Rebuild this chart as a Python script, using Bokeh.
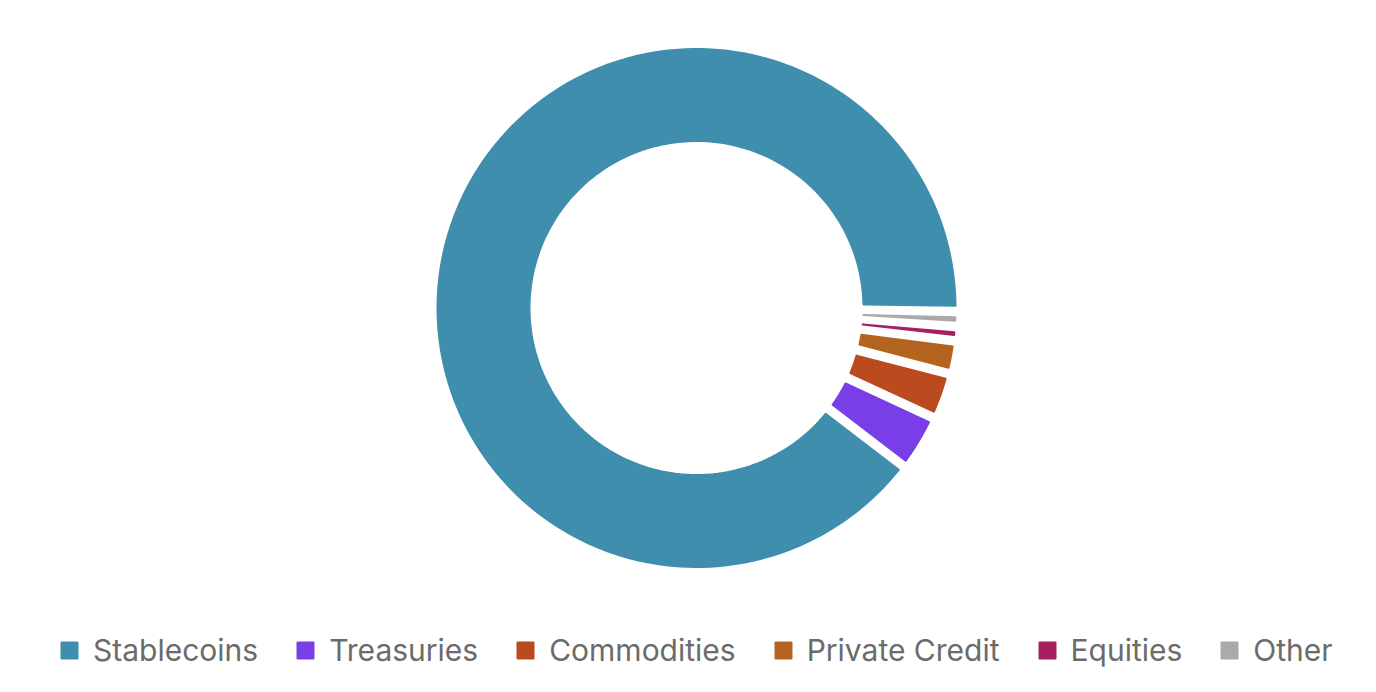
import numpy as np
from bokeh.plotting import figure
from bokeh.models import Range1d, Legend, LegendItem, ColumnDataSource
from bokeh.embed import file_html
from bokeh.resources import INLINE

# ---- data (share of tokenized real-world assets, %) ----
categories = ["Stablecoins", "Treasuries", "Commodities", "Private Credit", "Equities", "Other"]
shares = [93.65, 2.78, 2.13, 1.26, 0.06, 0.08]
colors = ["#3f8eae", "#7a3ee8", "#bb4a1e", "#b3641e", "#a62060", "#aaaaaa"]

# ---- layout / style ----
W, H = 1360, 676
CX, CY = 696.0, 307.5          # donut centre (plot pixels, y down)
R_OUT, R_IN = 259.0, 167.0
PAD_DEG = 3.0                   # angular room reserved per slice
GAP = 11.5                      # constant-width gap between slices (px)
START_DEG = 0.8                 # first slice boundary, clockwise from 3 o'clock

vals = np.array(shares, dtype=float)
n = len(vals)
ang = np.radians(PAD_DEG + vals / vals.sum() * (360.0 - n * PAD_DEG))
cum = np.concatenate([[0.0], np.cumsum(ang)])
start = np.radians(START_DEG)


def trimmed(a, b, r):
    d = np.arcsin((GAP / 2.0) / r)
    a2, b2 = a + d, b - d
    if a2 > b2:
        a2 = b2 = (a + b) / 2.0
    return a2, b2


xs, ys = [], []
for i in range(n):
    # slices run counter-clockwise from the start boundary (y axis points down)
    a, b = start - cum[i + 1], start - cum[i]
    ao, bo = trimmed(a, b, R_OUT)
    ai, bi = trimmed(a, b, R_IN)
    t_out = np.linspace(ao, bo, 200)
    t_in = np.linspace(bi, ai, 200)
    px = np.concatenate([CX + R_OUT * np.cos(t_out), CX + R_IN * np.cos(t_in)])
    py = np.concatenate([CY + R_OUT * np.sin(t_out), CY + R_IN * np.sin(t_in)])
    xs.append(px.tolist())
    ys.append(py.tolist())

src = ColumnDataSource(dict(xs=xs, ys=ys, color=colors, label=categories))

p = figure(width=W, height=H, x_range=Range1d(0, W), y_range=Range1d(H, 0),
           output_backend="svg", toolbar_location=None, min_border=0)
p.axis.visible = False
p.grid.visible = False
p.outline_line_color = None
p.background_fill_color = "white"
p.border_fill_color = "white"

r = p.patches("xs", "ys", source=src, fill_color="color", line_color="color",
              line_width=2, line_join="round")

items = [LegendItem(label=categories[i], renderers=[r], index=i) for i in range(n)]
legend = Legend(items=items, orientation="horizontal", location=(59, 8),
                glyph_width=20, glyph_height=20, label_standoff=14, spacing=37,
                padding=0, margin=0, border_line_alpha=0, background_fill_alpha=0,
                label_text_font="Inter", label_text_font_size="30px",
                label_text_color="#6b6b6b")
p.add_layout(legend)

open("out.html", "w").write(file_html(p, INLINE))
